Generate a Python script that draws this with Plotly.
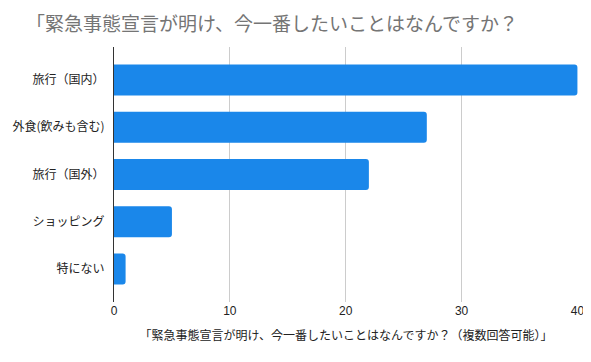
import plotly.graph_objects as go

categories = ["旅行（国内）", "外食(飲みも含む)", "旅行（国外）", "ショッピング", "特にない"]
values = [40, 27, 22, 5, 1]
x_ticks = [0, 10, 20, 30, 40]

title_text = "「緊急事態宣言が明け、今一番したいことはなんですか？"
x_title = "「緊急事態宣言が明け、今一番したいことはなんですか？（複数回答可能）」"

FONT = "Liberation Sans, Arial, Noto Sans CJK JP"
JFONT = "Noto Sans CJK JP, Liberation Sans"

# page body has an 8px default margin; compensate
OFF = 8
W, H = 591 - OFF, 362 - OFF

fig = go.Figure(go.Bar(
    x=values, y=categories, orientation="h",
    marker=dict(color="#1a87ea", cornerradius=3, line=dict(width=0)),
    width=0.655,
))

fig.update_layout(
    width=W, height=H,
    margin=dict(l=114 - OFF, r=13, t=47 - OFF, b=60),
    paper_bgcolor="white", plot_bgcolor="white",
    showlegend=False,
    font=dict(family=FONT, size=12, color="#222222"),
    title=dict(text=title_text, x=(26 - OFF) / W, xanchor="left", xref="container",
               y=1 - (24 - OFF) / H, yanchor="middle", yref="container",
               font=dict(family=JFONT, size=19, color="#757575")),
    xaxis=dict(range=[0, 40.05], tickvals=x_ticks, showgrid=True, gridcolor="#cccccc",
               gridwidth=1, zeroline=False, showline=False, ticks="", automargin=False,
               tickfont=dict(family=FONT, size=12, color="#222222"),
               title=dict(text=x_title, standoff=14,
                          font=dict(family=JFONT, size=12, color="#222222"))),
    yaxis=dict(categoryorder="array", categoryarray=categories, automargin=False,
               range=[4.7, -0.7], showline=True, linecolor="#333333", linewidth=1,
               ticks="", ticklabelstandoff=6,
               tickfont=dict(family=JFONT, size=12, color="#222222")),
)

fig.write_html("out.html")
